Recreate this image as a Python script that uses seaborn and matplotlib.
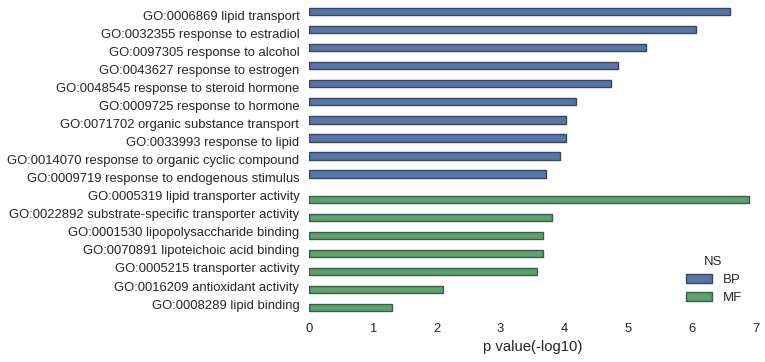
import matplotlib
matplotlib.use("Agg")
import matplotlib.pyplot as plt
import matplotlib.colors as mcolors
import pandas as pd
import seaborn as sns

terms = [
    "GO:0006869 lipid transport",
    "GO:0032355 response to estradiol",
    "GO:0097305 response to alcohol",
    "GO:0043627 response to estrogen",
    "GO:0048545 response to steroid hormone",
    "GO:0009725 response to hormone",
    "GO:0071702 organic substance transport",
    "GO:0033993 response to lipid",
    "GO:0014070 response to organic cyclic compound",
    "GO:0009719 response to endogenous stimulus",
    "GO:0005319 lipid transporter activity",
    "GO:0022892 substrate-specific transporter activity",
    "GO:0001530 lipopolysaccharide binding",
    "GO:0070891 lipoteichoic acid binding",
    "GO:0005215 transporter activity",
    "GO:0016209 antioxidant activity",
    "GO:0008289 lipid binding",
]
ns = ["BP"] * 10 + ["MF"] * 7
pvals = [6.59, 6.06, 5.28, 4.84, 4.73, 4.18, 4.02, 4.02, 3.93, 3.71,
         6.90, 3.81, 3.66, 3.66, 3.57, 2.10, 1.30]

df = pd.DataFrame({"term": terms, "NS": ns, "p": pvals})

sns.set_style("white")
plt.rcParams["font.family"] = ["Liberation Sans", "DejaVu Sans"]
plt.rcParams["text.color"] = ".15"
plt.rcParams["xtick.color"] = ".15"
plt.rcParams["ytick.color"] = ".15"
plt.rcParams["axes.labelcolor"] = ".15"

fig, ax = plt.subplots(figsize=(7.65, 3.62), dpi=100)
sns.barplot(data=df, y="term", x="p", hue="NS", hue_order=["BP", "MF"],
            palette=["#4C72B0", "#55A868"], dodge=True, width=0.8,
            ax=ax, linewidth=1)
# darker outline per bar, like the old seaborn look
for bar in ax.patches:
    fc = mcolors.to_rgb(bar.get_facecolor())
    bar.set_edgecolor(tuple(c * 0.6 for c in fc))

ax.set_xlim(0, 7)
ax.set_ylim(16.5, -0.5)
ax.set_ylabel("")
ax.set_xlabel("p value(-log10)", fontsize=10.7, labelpad=4)
ax.tick_params(axis="both", labelsize=9.4, length=0, pad=7)
sns.despine(left=True, bottom=True)
ax.legend(title="NS", loc="lower right", frameon=False, fontsize=9.5,
          title_fontsize=9.5, bbox_to_anchor=(0.995, -0.01),
          handlelength=2.0, labelspacing=0.45)

fig.subplots_adjust(left=0.404, right=0.988, top=0.983, bottom=0.135)
fig.savefig("out.png", dpi=100)
